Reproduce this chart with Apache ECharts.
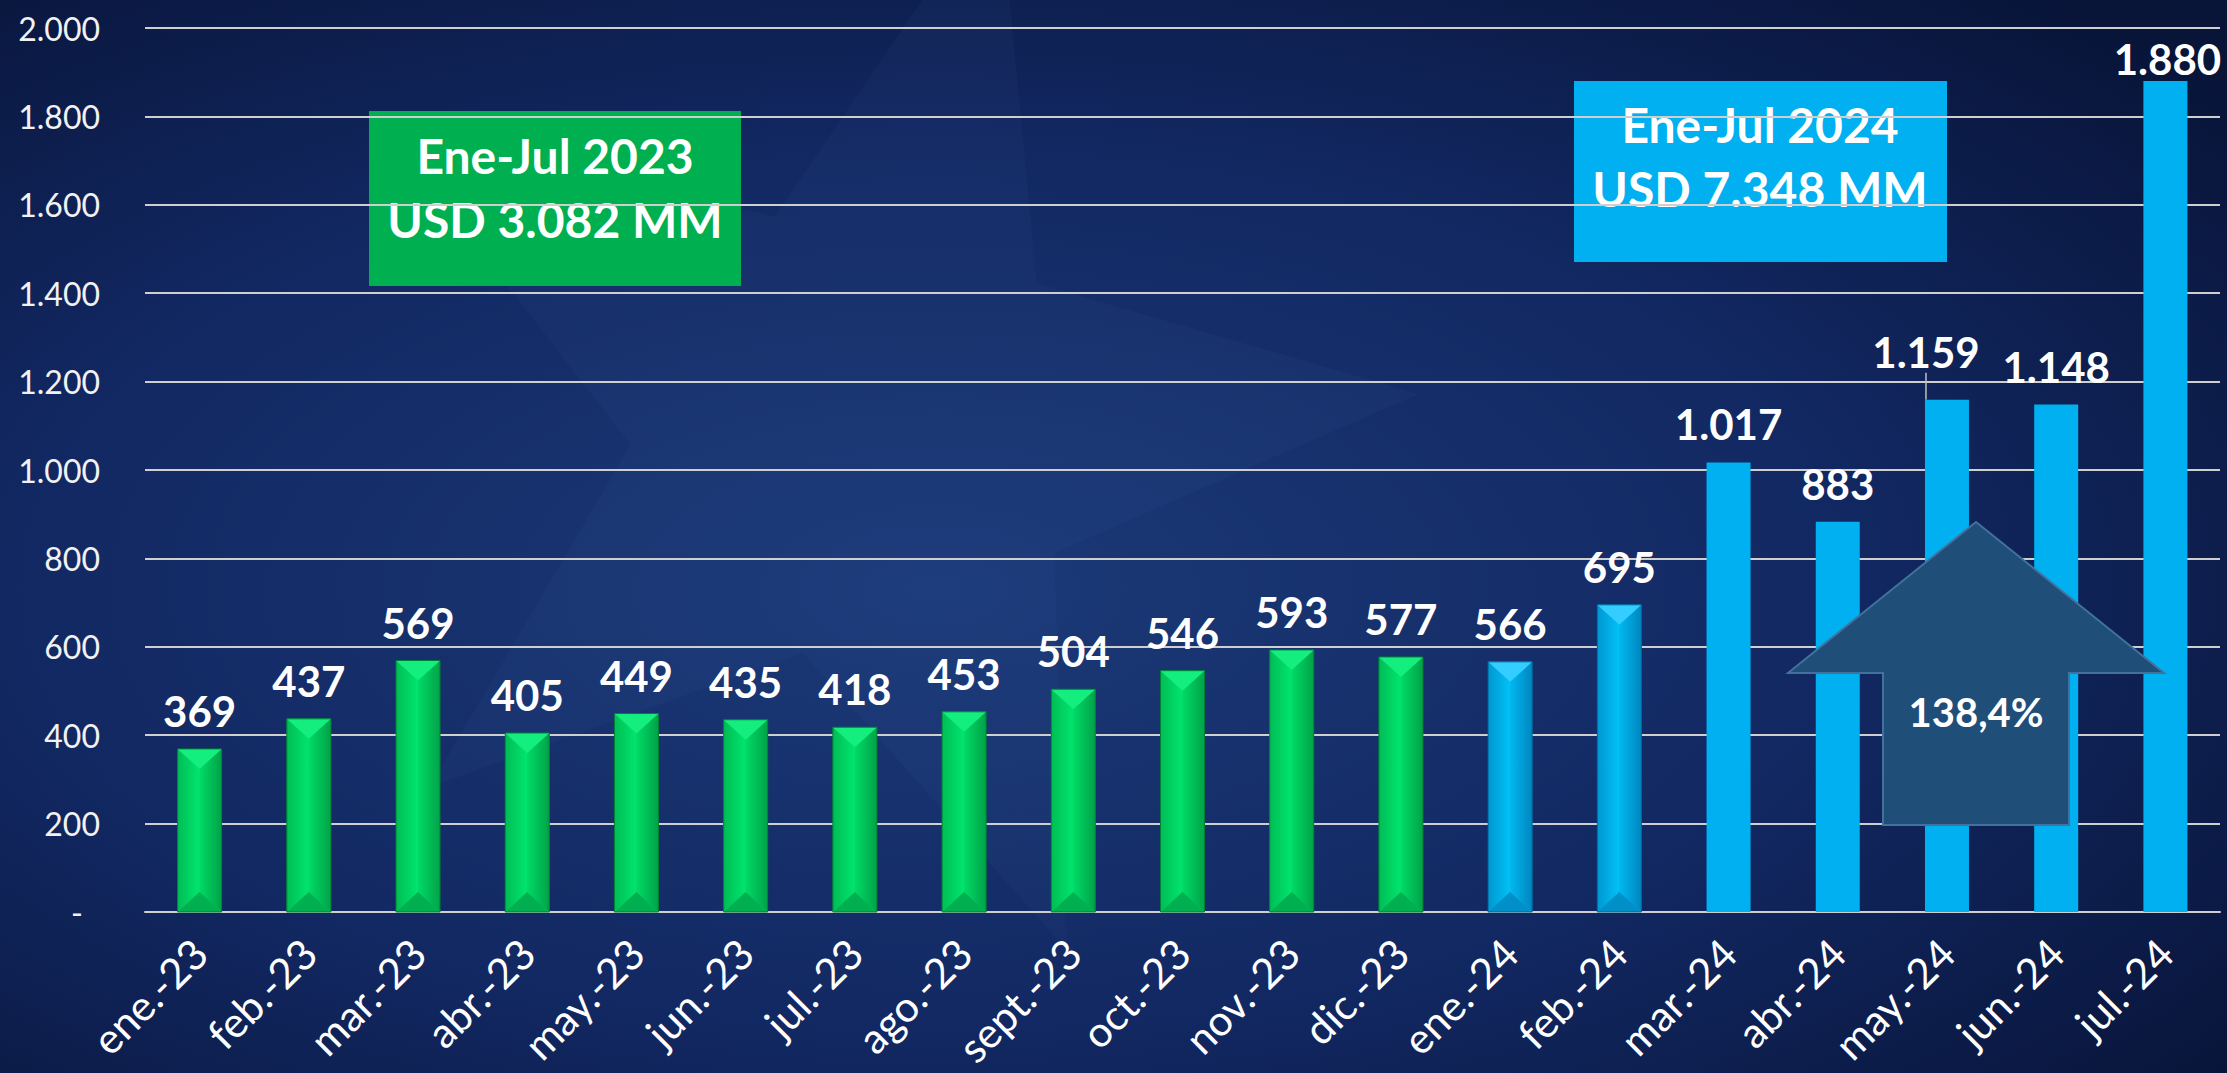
<!DOCTYPE html>
<html>
<head>
<meta charset="utf-8">
<title>Exportaciones mensuales</title>
<script src="https://cdn.jsdelivr.net/npm/echarts@6/dist/echarts.min.js"></script>
<style>
  html, body { margin: 0; padding: 0; background: #0b1a45; }
  #chart { width: 2227px; height: 1073px; }
</style>
</head>
<body>
<div id="chart"></div>
<script>
  // meses y montos (USD MM)
  var months = ['ene.-23', 'feb.-23', 'mar.-23', 'abr.-23', 'may.-23', 'jun.-23', 'jul.-23',
    'ago.-23', 'sept.-23', 'oct.-23', 'nov.-23', 'dic.-23',
    'ene.-24', 'feb.-24', 'mar.-24', 'abr.-24', 'may.-24', 'jun.-24', 'jul.-24'];
  var values = [369, 437, 569, 405, 449, 435, 418, 453, 504, 546, 593, 577,
    566, 695, 1017, 883, 1159, 1148, 1880];
  var yMax = 2000, yStep = 200;
  var box2023 = ['Ene-Jul 2023', 'USD 3.082 MM'];
  var box2024 = ['Ene-Jul 2024', 'USD 7.348 MM'];
  var growth = '138,4%';

  var greenCount = 12;   // barras verdes con relieve
  var bevelBlueCount = 2; // barras celestes con relieve
  var barW = 44;
  var font = 'Lato';

  // ajustes manuales de etiquetas (como en el excel)
  var labelTweaks = { 16: { dx: -21, dy: -10, line: true }, 18: { dx: 2, dy: 16 } };

  var bevel = {
    green: { l0: '#00bd55', l1: '#00e66e', r0: '#00db66', r1: '#00a247', top: '#14ee7e', bot: '#00b050', edge: '#007f38' },
    blue: { l0: '#0097d2', l1: '#00c2f6', r0: '#00b8f0', r1: '#0086bf', top: '#33cdff', bot: '#008fc6', edge: '#00679a' }
  };

  function fmt(v) {
    return String(v).replace(/\B(?=(\d{3})+(?!\d))/g, '.');
  }
  function kind(i) {
    if (i < greenCount) return 'green';
    if (i < greenCount + bevelBlueCount) return 'blue';
    return 'flat';
  }

  var barData = values.map(function (v, i) {
    var k = kind(i);
    var item = { value: v, itemStyle: { color: k === 'green' ? '#00d862' : (k === 'blue' ? '#00b4ec' : '#00b0f0') } };
    if (labelTweaks[i] && labelTweaks[i].line) {
      item.labelLine = { show: true, lineStyle: { color: '#bfbfbf', width: 1.5 } };
    }
    return item;
  });

  function lin(c0, c1) {
    return new echarts.graphic.LinearGradient(0, 0, 1, 0, [{ offset: 0, color: c0 }, { offset: 1, color: c1 }]);
  }

  function starPoints(cx, cy, ro, ri, n, rot) {
    var pts = [];
    for (var k = 0; k < n * 2; k++) {
      var r = k % 2 === 0 ? ro : ri;
      var a = rot + k * Math.PI / n;
      pts.push([cx + r * Math.sin(a), cy - r * Math.cos(a)]);
    }
    return pts;
  }

  var chart = echarts.init(document.getElementById('chart'), null, { renderer: 'svg' });

  chart.setOption({
    backgroundColor: new echarts.graphic.RadialGradient(0.42, 0.55, 0.75, [
      { offset: 0, color: '#1b3a78' },
      { offset: 0.55, color: '#122862' },
      { offset: 1, color: '#081438' }
    ]),
    animation: false,
    textStyle: { fontFamily: font },
    grid: { left: 145, right: 7, top: 28, bottom: 161, outerBoundsMode: 'none' },
    xAxis: {
      type: 'category',
      data: months,
      axisLine: { show: true, lineStyle: { color: '#cfcfcf', width: 2 } },
      axisTick: { show: false },
      axisLabel: {
        interval: 0,
        rotate: 45,
        margin: 34,
        color: '#ffffff',
        fontSize: 42,
        fontFamily: font,
        padding: [76, 0, 0, 0]
      }
    },
    yAxis: {
      type: 'value',
      min: 0,
      max: yMax,
      interval: yStep,
      axisLine: { show: false },
      axisTick: { show: false },
      splitLine: { lineStyle: { color: '#cfcfcf', width: 2 } },
      axisLabel: {
        margin: 45,
        color: '#f2f2f2',
        fontSize: 32,
        fontFamily: font,
        formatter: function (v) { return v === 0 ? '{dash|-}' : fmt(v); },
        rich: { dash: { fontSize: 32, color: '#f2f2f2', fontFamily: font, padding: [0, 17, 0, 0] } }
      }
    },
    series: [
      {
        type: 'bar',
        data: barData,
        barWidth: barW,
        z: 2,
        label: {
          show: true,
          position: 'top',
          distance: 17,
          color: '#ffffff',
          fontSize: 42,
          fontWeight: 'bold',
          fontFamily: font,
          formatter: function (p) { return fmt(p.value); }
        },
        labelLayout: function (p) {
          var t = labelTweaks[p.dataIndex];
          return t ? { dx: t.dx, dy: t.dy } : {};
        }
      },
      {
        // relieve de las barras 3D
        type: 'custom',
        z: 3,
        silent: true,
        data: values.map(function (v, i) { return [i, v]; }),
        encode: { x: 0, y: 1 },
        renderItem: function (params, api) {
          var i = api.value(0);
          var k = kind(i);
          if (k === 'flat') return null;
          var c = bevel[k];
          var top = api.coord([i, api.value(1)]);
          var base = api.coord([i, 0]);
          var cx = top[0], l = cx - barW / 2, r = cx + barW / 2, t = top[1], b = base[1];
          var d = Math.min(20, (b - t) / 2);
          return {
            type: 'group',
            children: [
              { type: 'polygon', shape: { points: [[l, t], [cx, t + d], [cx, b - d], [l, b]] }, style: { fill: lin(c.l0, c.l1) } },
              { type: 'polygon', shape: { points: [[cx, t + d], [r, t], [r, b], [cx, b - d]] }, style: { fill: lin(c.r0, c.r1) } },
              { type: 'polygon', shape: { points: [[l, t], [r, t], [cx, t + d]] }, style: { fill: c.top } },
              { type: 'polygon', shape: { points: [[l, b], [cx, b - d], [r, b]] }, style: { fill: c.bot } },
              { type: 'rect', shape: { x: l, y: t, width: barW, height: b - t }, style: { fill: 'none', stroke: c.edge, lineWidth: 1 } }
            ]
          };
        }
      }
    ],
    graphic: [
      {
        // logo tenue de fondo
        type: 'polygon',
        z: -10,
        silent: true,
        shape: { points: starPoints(860, 430, 560, 230, 5, 0.25) },
        style: { fill: 'rgba(80,120,190,0.06)' }
      },
      {
        type: 'group',
        left: 369,
        top: 111,
        children: [
          { type: 'rect', shape: { x: 0, y: 0, width: 372, height: 175 }, style: { fill: '#00b050' } },
          {
            type: 'text', x: 186, y: 76,
            style: {
              text: box2023.join('\n'), fill: '#ffffff', font: 'bold 48px Lato',
              align: 'center', verticalAlign: 'middle', lineHeight: 64
            }
          }
        ]
      },
      {
        type: 'group',
        left: 1574,
        top: 81,
        children: [
          { type: 'rect', shape: { x: 0, y: 0, width: 373, height: 181 }, style: { fill: '#00b0f0' } },
          {
            type: 'text', x: 186, y: 75,
            style: {
              text: box2024.join('\n'), fill: '#ffffff', font: 'bold 48px Lato',
              align: 'center', verticalAlign: 'middle', lineHeight: 64
            }
          }
        ]
      },
      {
        type: 'polygon',
        z: 10,
        shape: {
          points: [[1976, 522], [2164, 673], [2069, 673], [2069, 825], [1883, 825], [1883, 673], [1788, 673]]
        },
        style: { fill: '#1f4e79', stroke: '#41719c', lineWidth: 2 }
      },
      {
        type: 'text',
        z: 11,
        x: 1976,
        y: 712,
        style: { text: growth, fill: '#ffffff', font: 'bold 40px Lato', align: 'center', verticalAlign: 'middle' }
      }
    ]
  });
</script>
</body>
</html>
